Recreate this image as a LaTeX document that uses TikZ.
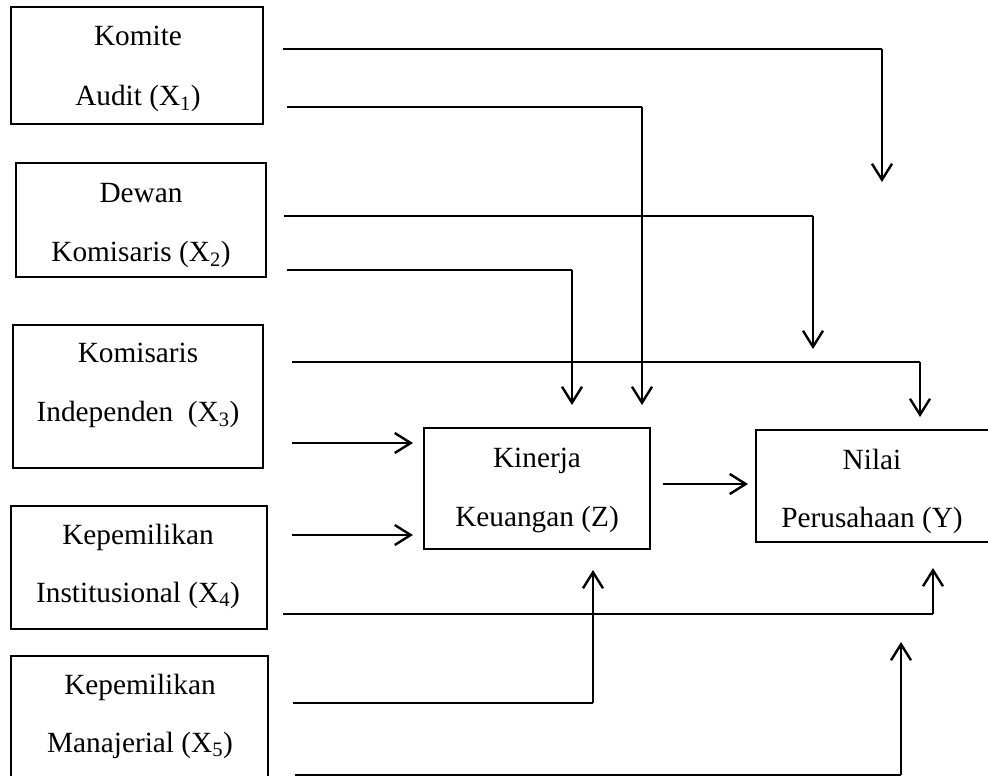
\documentclass[tikz,border=0pt]{standalone}
\usepackage{fontspec}
\setmainfont{Liberation Serif}
\usetikzlibrary{arrows.meta}
\begin{document}
\begin{tikzpicture}[x=1pt,y=-1pt,
  box/.style={draw, line width=2.4pt, inner sep=0pt, outer sep=0pt},
  lbl/.style={anchor=base, inner sep=0pt, font=\fontsize{29.3}{35}\selectfont},
  hl/.style={line width=1.6pt},
  vl/.style={line width=2.4pt, -{Straight Barb[length=16pt,width=20pt]}},
  ha/.style={line width=2.4pt, -{Straight Barb[length=16pt,width=20pt]}}]
\useasboundingbox (0,0) rectangle (988,776);

% boxes
\node[box, minimum width=252pt, minimum height=117pt] (X1) at (137,65.5) {};
\node[box, minimum width=250pt, minimum height=114pt] (X2) at (141,220) {};
\node[box, minimum width=250pt, minimum height=143pt] (X3) at (138,396.5) {};
\node[box, minimum width=256pt, minimum height=123pt] (X4) at (139,567.5) {};
\node[box, minimum width=257pt, minimum height=144pt] (X5) at (139.5,728) {};
\node[box, minimum width=226pt, minimum height=121pt] (Z) at (537,488.5) {};
\node[box, minimum width=236pt, minimum height=112pt] (Y) at (874,486) {};

% texts
\node[lbl] (t1a) at (138,46) {Komite};
\node[lbl] (t1b) at (138,106) {Audit (X\textsubscript{1})};
\node[lbl] (t2a) at (141,202) {Dewan};
\node[lbl] (t2b) at (141,261) {Komisaris (X\textsubscript{2})};
\node[lbl] (t3a) at (138,362) {Komisaris};
\node[lbl] (t3b) at (138,421) {Independen\ \ (X\textsubscript{3})};
\node[lbl] (t4a) at (138,544) {Kepemilikan};
\node[lbl] (t4b) at (138,602) {Institusional (X\textsubscript{4})};
\node[lbl] (t5a) at (140,694) {Kepemilikan};
\node[lbl] (t5b) at (140,752) {Manajerial (X\textsubscript{5})};
\node[lbl] (tza) at (537,467) {Kinerja};
\node[lbl] (tzb) at (537,526) {Keuangan (Z)};
\node[lbl] (tya) at (872,469) {Nilai};
\node[lbl] (tyb) at (872,527) {Perusahaan (Y)};

% connector end points
\coordinate (s1) at (283,49);  \coordinate (c1) at (882,49);  \coordinate (e1) at (882,182);
\coordinate (s2) at (287,107); \coordinate (c2) at (642,107); \coordinate (e2) at (642,405);
\coordinate (s3) at (284,216); \coordinate (c3) at (813,216); \coordinate (e3) at (813,349);
\coordinate (s4) at (287,270); \coordinate (c4) at (572,270); \coordinate (e4) at (572,405);
\coordinate (s5) at (292,362); \coordinate (c5) at (920,362); \coordinate (e5) at (920,417);
\coordinate (s6) at (292,443); \coordinate (e6) at (413,443);
\coordinate (s7) at (292,535); \coordinate (e7) at (413,535);
\coordinate (s8) at (283,614); \coordinate (c8) at (933,614); \coordinate (e8) at (933,568);
\coordinate (s9) at (293,703); \coordinate (c9) at (593,703); \coordinate (e9) at (593,570);
\coordinate (s10) at (295,775); \coordinate (c10) at (901,775); \coordinate (e10) at (901,642);
\coordinate (s11) at (663,484); \coordinate (e11) at (748,484);

% connectors
\foreach \i in {1,2,3,4,5,8,9,10}{
  \draw[hl] (s\i) -- (c\i);
  \draw[vl] (c\i) -- (e\i);
}
\draw[ha] (s6) -- (e6);
\draw[ha] (s7) -- (e7);
\draw[ha] (s11) -- (e11);
\end{tikzpicture}
\end{document}
